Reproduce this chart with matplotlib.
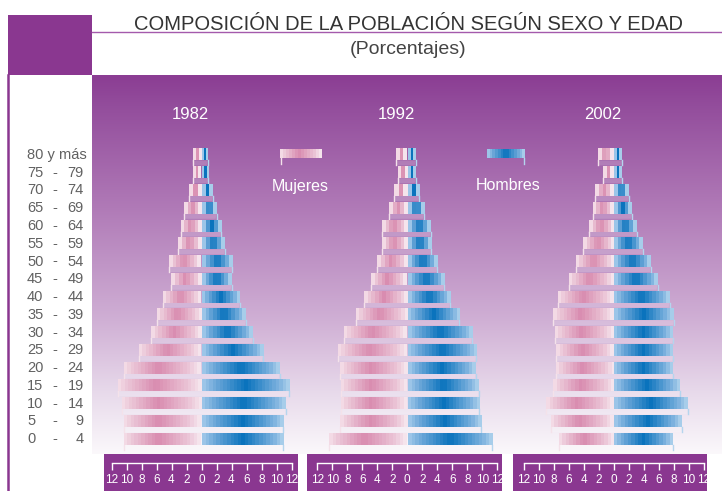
import numpy as np
import matplotlib
matplotlib.use("Agg")
import matplotlib.pyplot as plt
from matplotlib.colors import LinearSegmentedColormap
from matplotlib.patches import Rectangle, Polygon
import matplotlib.transforms as mtransforms

# ---------------------------------------------------------------------------
# Data (percent of each sex, by age group; bottom row first)
# ---------------------------------------------------------------------------

AGE_LO = ["0", "5", "10", "15", "20", "25", "30", "35", "40",
          "45", "50", "55", "60", "65", "70", "75", "80 y más"]
AGE_HI = ["4", "9", "14", "19", "24", "29", "34", "39", "44",
          "49", "54", "59", "64", "69", "74", "79", ""]

YEARS = ["1982", "1992", "2002"]

mujeres_1982 = [10.3, 10.3, 10.6, 11.2, 10.3, 8.3, 6.8, 6.0, 5.1,
                4.1, 4.3, 3.2, 2.8, 2.4, 1.7, 1.1, 1.2]
hombres_1982 = [10.9, 10.9, 11.2, 11.7, 10.4, 8.2, 6.8, 5.9, 5.1,
                4.0, 4.1, 3.1, 2.6, 2.0, 1.5, 0.9, 0.8]

mujeres_1992 = [10.4, 9.0, 8.8, 8.8, 9.0, 9.2, 8.4, 6.9, 5.8,
                4.8, 4.1, 3.4, 3.4, 2.5, 1.8, 1.3, 1.5]
hombres_1992 = [11.3, 9.8, 9.6, 9.5, 9.1, 9.2, 8.6, 6.9, 5.7,
                4.9, 4.0, 3.2, 3.1, 2.2, 1.6, 1.1, 1.1]

mujeres_2002 = [7.4, 8.4, 9.1, 8.2, 7.8, 7.7, 7.9, 8.1, 7.5,
                6.0, 5.1, 4.2, 3.4, 2.8, 2.5, 1.5, 2.1]
hombres_2002 = [7.8, 9.0, 9.8, 8.8, 7.9, 7.9, 7.9, 8.0, 7.4,
                5.8, 4.9, 3.9, 3.1, 2.4, 2.0, 1.1, 1.1]

MUJERES = [mujeres_1982, mujeres_1992, mujeres_2002]
HOMBRES = [hombres_1982, hombres_1992, hombres_2002]

# ---------------------------------------------------------------------------
# Style
# ---------------------------------------------------------------------------

W, H = 722, 491
PURPLE = "#8a3790"
plt.rcParams["font.family"] = ["Liberation Sans", "DejaVu Sans"]

pink_cmap = LinearSegmentedColormap.from_list(
    "pink", [(0.0, "#f3dae5"), (0.08, "#ecc9d9"), (0.45, "#d98cb0"),
             (0.85, "#ebc4d6"), (1.0, "#f5e4ec")])
blue_cmap = LinearSegmentedColormap.from_list(
    "blue", [(0.0, "#9cc5e8"), (0.15, "#6aa6d8"), (0.5, "#0a73bd"),
             (0.9, "#7fb3df"), (1.0, "#a7cdea")])
bg_cmap = LinearSegmentedColormap.from_list(
    "bg", [(0.0, "#8b3d93"), (0.08, "#934d9c"), (0.35, "#b07ab7"),
           (0.65, "#d0b0d5"), (0.85, "#e9dcec"), (1.0, "#fbf8fb")])

BAR_H = 0.62
FLAP = 0.28


def fig_x(px):
    return px / W


def fig_y(py):
    return 1 - py / H


fig = plt.figure(figsize=(W / 100, H / 100), dpi=100)

# decoration layer in pixel coordinates
deco = fig.add_axes([0, 0, 1, 1], zorder=0)
deco.set_xlim(0, W)
deco.set_ylim(H, 0)
deco.axis("off")

grad = np.linspace(0, 1, 256).reshape(-1, 1)
deco.imshow(grad, cmap=bg_cmap, extent=(92, W, 454, 75), aspect="auto",
            interpolation="bilinear")
deco.add_patch(Rectangle((8, 15), 84, 60, color=PURPLE, lw=0))
deco.plot([8, 8], [75, H], color=PURPLE, lw=1.8)
deco.plot([92, W], [32, 32], color="#a45aac", lw=1.0)
for x0, x1 in [(104, 298), (307, 502), (513, 707)]:
    deco.add_patch(Rectangle((x0, 454), x1 - x0, H - 454, color=PURPLE, lw=0))

deco.text(408, 30, "COMPOSICIÓN DE LA POBLACIÓN SEGÚN SEXO Y EDAD",
          ha="center", va="baseline", fontsize=14.5, color="#333333")
deco.text(408, 54, "(Porcentajes)", ha="center", va="baseline",
          fontsize=14, color="#444444")


def gradient_bar(ax, x0, x1, y, cmap):
    n = max(3, int(abs(x1 - x0) * 2.2))
    g = np.linspace(0, 1, n)
    ax.imshow(g.reshape(1, -1), cmap=cmap, extent=(x0, x1, y - BAR_H / 2, y + BAR_H / 2),
              aspect="auto", interpolation="nearest", zorder=3)


def flap(ax, x0, x1, y, color_l, color_r):
    yb = y - BAR_H / 2
    d = 0.12
    ax.add_patch(Polygon([(x0, yb), (x1, yb), (x1 - d, yb - FLAP), (x0 + d, yb - FLAP)],
                         closed=True, facecolor="white", alpha=0.16, lw=0, zorder=2))
    ax.plot([x0, x0], [yb, yb - FLAP], color=color_l, lw=1.0, zorder=2)
    ax.plot([x1, x1], [yb, yb - FLAP], color=color_r, lw=1.0, zorder=2)


centers = [201.5, 407.3, 614.0]
half = 90.0
rows = np.arange(len(AGE_LO))
y_lo = -15 / 17.8
y_hi = (440 - 75) / 17.8

panels = []
for k, c in enumerate(centers):
    ax = fig.add_axes([fig_x(c - half), fig_y(454), fig_x(2 * half), (454 - 75) / H],
                      zorder=2)
    ax.patch.set_alpha(0)
    ax.axis("off")
    for i in rows:
        m = MUJERES[k][i]
        h = HOMBRES[k][i]
        flap(ax, -m, h, i, "#f4e2ea", "#b5d5ee")
        gradient_bar(ax, -m, -0.05, i, pink_cmap)
        gradient_bar(ax, 0.05, h, i, blue_cmap)
    ax.set_xlim(-12, 12)
    ax.set_ylim(y_lo, y_hi)
    ax.text(-1.5, (440 - 115) / 17.8, YEARS[k], ha="center", va="center",
            fontsize=12, color="white")
    panels.append(ax)

    # bottom scale
    sx = fig.add_axes([fig_x(c - half), fig_y(463), fig_x(2 * half), 0.0005], zorder=3)
    sx.patch.set_alpha(0)
    for s in ["top", "left", "right"]:
        sx.spines[s].set_visible(False)
    sx.spines["bottom"].set_color("white")
    sx.spines["bottom"].set_linewidth(1.0)
    sx.set_xlim(-12, 12)
    ticks = np.arange(-12, 13, 2)
    sx.set_xticks(ticks)
    sx.set_xticklabels([str(abs(t)) for t in ticks])
    sx.set_yticks([])
    sx.tick_params(axis="x", colors="white", length=5, width=1.0, pad=3,
                   labelsize=8.5, direction="out")

# age labels
ax0 = panels[0]
tr = mtransforms.blended_transform_factory(fig.transFigure, ax0.transData)
for i in rows:
    lo, hi = AGE_LO[i], AGE_HI[i]
    ax0.text(fig_x(27), i, lo, transform=tr, ha="left", va="center",
             fontsize=10.5, color="#616161")
    if hi:
        ax0.text(fig_x(55), i, "-", transform=tr, ha="center", va="center",
                 fontsize=10.5, color="#616161")
        ax0.text(fig_x(84), i, hi, transform=tr, ha="right", va="center",
                 fontsize=10.5, color="#616161")

# legend
g = np.linspace(0, 1, 14).reshape(1, -1)
deco.imshow(g, cmap=pink_cmap, extent=(280, 322, 158, 149), aspect="auto",
            interpolation="nearest", zorder=3)
deco.imshow(g, cmap=blue_cmap, extent=(487, 525, 158, 149), aspect="auto",
            interpolation="nearest", zorder=3)
deco.plot([281, 281], [158, 164], color="#f4e2ea", lw=1.0, zorder=3)
deco.plot([524, 524], [158, 164], color="#b5d5ee", lw=1.0, zorder=3)
deco.text(300, 186, "Mujeres", ha="center", va="center", fontsize=11.5, color="white")
deco.text(508, 186, "Hombres", ha="center", va="center", fontsize=11.5, color="white")
deco.set_xlim(0, W)
deco.set_ylim(H, 0)

fig.savefig("out.png", dpi=100)
